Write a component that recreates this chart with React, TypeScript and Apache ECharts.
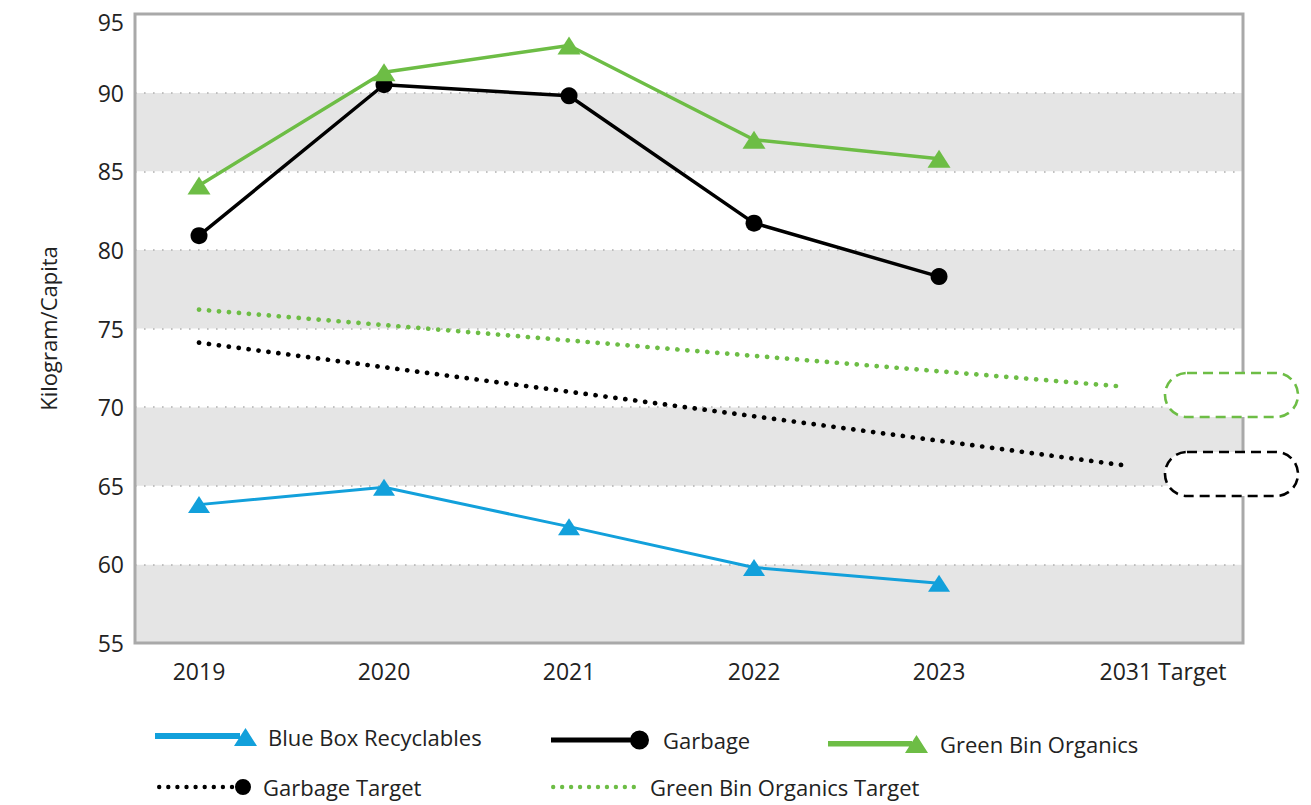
import React, { useEffect, useRef } from 'react';
import * as echarts from 'echarts';

const categories = ['2019', '2020', '2021', '2022', '2023', '2031 Target'];
const blueBox = [63.8, 64.9, 62.4, 59.8, 58.8, null];
const garbage = [80.9, 90.5, 89.8, 81.7, 78.3, null];
const greenBin = [84.1, 91.3, 93.0, 87.0, 85.8, null];
const garbageTarget = [74.1, null, null, null, null, 66.3];
const greenBinTarget = [76.2, null, null, null, null, 71.3];
const yMin = 55;
const yMax = 95;
const yStep = 5;

const FONT = '"Open Sans", "DejaVu Sans", sans-serif';
const TXT = '#222222';
const BLUE = '#12a0db';
const BLACK = '#000000';
const GREEN = '#6dbd45';

const toPairs = (vals: (number | null)[]) =>
  vals.map((v, i) => (v == null ? null : [i, v])).filter((p) => p !== null);

const circ = (cx: number, cy: number, r: number) =>
  `M${cx - r},${cy}A${r},${r} 0 1,1 ${cx + r},${cy}A${r},${r} 0 1,1 ${cx - r},${cy}Z`;

const dots = (n: number, step: number, r: number, cy: number) => {
  let s = '';
  for (let i = 0; i < n; i++) s += circ(r + i * step, cy, r);
  return s;
};

const iconBlue = 'path://M0,5L85,5L85,11L0,11ZM79,18L90.5,0L102,18Z';
const iconGreen = 'path://M0,6L84,6L84,11.5L0,11.5ZM77,18L88.5,0L100,18Z';
const iconGarbage = 'path://M0,7L80,7L80,12L0,12Z' + circ(88.5, 9.5, 9.5);
const iconGarbageTarget = 'path://' + dots(9, 9.1, 2.2, 8) + circ(86, 8, 8);
const iconGreenTarget = 'path://' + dots(10, 9.0, 2.2, 2.2);

const mkLegend = (
  name: string,
  icon: string,
  w: number,
  h: number,
  left: number,
  top: number,
  padLeft: number
) => ({
  left,
  top,
  padding: 0,
  itemWidth: w,
  itemHeight: h,
  itemGap: 0,
  data: [{ name, icon }],
  itemStyle: { borderWidth: 0 },
  textStyle: {
    fontSize: 22,
    color: TXT,
    fontFamily: FONT,
    padding: [0, 0, 0, padLeft],
    lineHeight: 26,
  },
});

export default function App() {
  const ref = useRef<HTMLDivElement>(null);

  useEffect(() => {
    if (!ref.current) return;
    const chart = echarts.init(ref.current, null, { renderer: 'svg' });
    const last = categories.length - 1;
    chart.setOption({
      animation: false,
      backgroundColor: '#ffffff',
      textStyle: { fontFamily: FONT },
      grid: {
        left: 135,
        right: 68,
        top: 14,
        bottom: 162,
        show: true,
        borderColor: '#a9a9a9',
        borderWidth: 3,
        backgroundColor: 'transparent',
        z: 3,
      },
      xAxis: {
        type: 'value',
        min: -0.346,
        max: 5.643,
        axisLine: { show: false },
        axisTick: { show: false },
        splitLine: { show: false },
        axisLabel: {
          customValues: categories.map((_, i) => i),
          fontSize: 23,
          color: TXT,
          fontFamily: FONT,
          margin: 16,
          formatter: (v: number) => {
            const i = Math.round(v);
            const c = categories[i] ?? '';
            return i === last ? `{t|${c}}` : c;
          },
          rich: {
            t: {
              fontSize: 23,
              color: TXT,
              fontFamily: FONT,
              padding: [0, 0, 0, 78],
            },
          },
        },
      },
      yAxis: {
        type: 'value',
        min: yMin,
        max: yMax,
        interval: yStep,
        name: 'Kilogram/Capita',
        nameLocation: 'middle',
        nameGap: 76,
        nameTextStyle: { fontSize: 22, color: TXT, fontFamily: FONT },
        axisLine: { show: false },
        axisTick: { show: false },
        axisLabel: {
          fontSize: 23,
          color: TXT,
          fontFamily: FONT,
          margin: 11,
          formatter: (v: number) => (v === yMax ? `{top|${v}}` : `${v}`),
          rich: {
            top: {
              fontSize: 23,
              color: TXT,
              fontFamily: FONT,
              padding: [16, 0, 0, 0],
            },
          },
        },
        splitLine: {
          show: true,
          lineStyle: { color: '#b0b0b0', width: 1.6, type: [1.6, 7.4] },
        },
        splitArea: {
          show: true,
          areaStyle: { color: ['#e5e5e5', '#ffffff'] },
        },
      },
      legend: [
        mkLegend('Blue Box Recyclables', iconBlue, 102, 18, 155, 724, 6),
        mkLegend('Garbage', iconGarbage, 98, 19, 551, 727, 9),
        mkLegend('Green Bin Organics', iconGreen, 100, 18, 828, 731, 7),
        mkLegend('Garbage Target', iconGarbageTarget, 94, 16, 157, 774, 7),
        mkLegend('Green Bin Organics Target', iconGreenTarget, 85, 4.4, 551, 774, 9),
      ],
      series: [
        {
          name: 'Blue Box Recyclables',
          type: 'line',
          data: toPairs(blueBox),
          symbol: 'triangle',
          symbolSize: [22, 17],
          color: BLUE,
          itemStyle: { color: BLUE },
          lineStyle: { color: BLUE, width: 3 },
          z: 5,
        },
        {
          name: 'Garbage',
          type: 'line',
          data: toPairs(garbage),
          symbol: 'circle',
          symbolSize: 17,
          color: BLACK,
          itemStyle: { color: BLACK },
          lineStyle: { color: BLACK, width: 3.5 },
          z: 5,
        },
        {
          name: 'Green Bin Organics',
          type: 'line',
          data: toPairs(greenBin),
          symbol: 'triangle',
          symbolSize: [23, 18],
          color: GREEN,
          itemStyle: { color: GREEN },
          lineStyle: { color: GREEN, width: 3.5 },
          z: 5,
        },
        {
          name: 'Garbage Target',
          type: 'line',
          data: toPairs(garbageTarget),
          symbol: 'none',
          showSymbol: false,
          connectNulls: true,
          color: BLACK,
          itemStyle: { color: BLACK },
          lineStyle: { color: BLACK, width: 4.7, type: [0.1, 9.9], cap: 'round' },
          z: 4,
        },
        {
          name: 'Green Bin Organics Target',
          type: 'line',
          data: toPairs(greenBinTarget),
          symbol: 'none',
          showSymbol: false,
          connectNulls: true,
          color: GREEN,
          itemStyle: { color: GREEN },
          lineStyle: { color: GREEN, width: 4.7, type: [0.1, 9.9], cap: 'round' },
          z: 4,
        },
      ],
      graphic: [
        {
          type: 'rect',
          z: 100,
          shape: { x: 1165, y: 373, width: 133, height: 44, r: 22 },
          style: { fill: '#ffffff', stroke: GREEN, lineWidth: 2.6, lineDash: [10, 6] },
        },
        {
          type: 'rect',
          z: 100,
          shape: { x: 1165, y: 452, width: 133, height: 44, r: 22 },
          style: { fill: '#ffffff', stroke: BLACK, lineWidth: 2.6, lineDash: [10, 6] },
        },
      ],
    });
    return () => chart.dispose();
  }, []);

  return (
    <div
      ref={ref}
      style={{ position: 'fixed', left: 0, top: 0, width: 1311, height: 805 }}
    />
  );
}
